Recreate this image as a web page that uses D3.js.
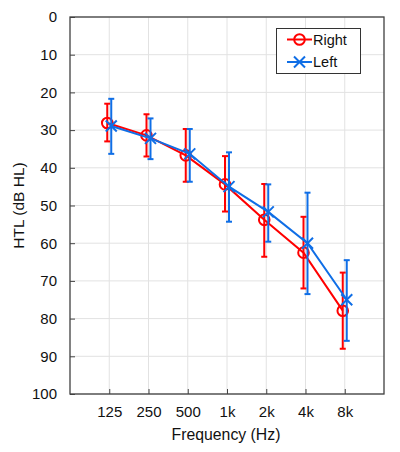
<!DOCTYPE html>
<html>
<head>
<meta charset="utf-8">
<script src="https://cdn.jsdelivr.net/npm/d3@7"></script>
<style>
  body { margin: 0; background: #fff; }
  svg text { font-family: "Liberation Sans", Arial, sans-serif; fill: #111; }
</style>
</head>
<body>
<svg id="chart" width="400" height="452"></svg>
<script>
// data
const freqs = ["125", "250", "500", "1k", "2k", "4k", "8k"];
const yTicks = [0, 10, 20, 30, 40, 50, 60, 70, 80, 90, 100];

const rightMean = [28.1, 31.4, 36.7, 44.4, 53.8, 62.5, 77.9];
const rightLo   = [23.0, 25.8, 29.7, 36.9, 44.3, 53.0, 67.8];
const rightHi   = [33.0, 37.0, 43.7, 51.6, 63.6, 72.0, 88.0];

const leftMean = [28.9, 32.2, 36.3, 45.0, 51.7, 60.0, 75.0];
const leftLo   = [21.7, 26.9, 29.7, 35.9, 44.4, 46.6, 64.5];
const leftHi   = [36.3, 37.7, 43.7, 54.3, 59.6, 73.5, 85.9];

const svg = d3.select("#chart");
const m = {left: 70, top: 17, right: 384, bottom: 394};

const x = d3.scaleLinear().domain([0, 8]).range([m.left, m.right]);
const y = d3.scaleLinear().domain([0, 100]).range([m.top, m.bottom]);

// grid
svg.append("g").selectAll("line.gy").data(yTicks).join("line")
  .attr("x1", m.left).attr("x2", m.right)
  .attr("y1", d => y(d)).attr("y2", d => y(d))
  .attr("stroke", "#e2e2e2").attr("stroke-width", 1);
svg.append("g").selectAll("line.gx").data(freqs).join("line")
  .attr("x1", (d, i) => x(i + 1)).attr("x2", (d, i) => x(i + 1))
  .attr("y1", m.top).attr("y2", m.bottom)
  .attr("stroke", "#e2e2e2").attr("stroke-width", 1);

// axes (ticks inward)
const yAxis = d3.axisLeft(y).tickValues(yTicks).tickSizeInner(-5).tickSizeOuter(0).tickPadding(13);
const gy = svg.append("g").attr("transform", `translate(${m.left},0)`).call(yAxis);
const xAxis = d3.axisBottom(x).tickValues(d3.range(1, 8)).tickFormat(d => freqs[d - 1])
  .tickSizeInner(-5).tickSizeOuter(0).tickPadding(12);
const gx = svg.append("g").attr("transform", `translate(0,${m.bottom})`).call(xAxis);
[gx, gy].forEach(g => {
  g.select(".domain").remove();
  g.selectAll("line").attr("stroke", "#444");
  g.selectAll("text").style("font-size", "15px").attr("fill", "#111");
});

// frame
svg.append("rect")
  .attr("x", m.left).attr("y", m.top)
  .attr("width", m.right - m.left).attr("height", m.bottom - m.top)
  .attr("fill", "none").attr("stroke", "#404040").attr("stroke-width", 1.3);

// axis titles
svg.append("text").attr("x", 226).attr("y", 440)
  .attr("text-anchor", "middle").style("font-size", "15.8px").text("Frequency (Hz)");
svg.append("text").attr("transform", `translate(24,${(m.top + m.bottom) / 2}) rotate(-90)`)
  .attr("text-anchor", "middle").style("font-size", "15.5px").text("HTL (dB HL)");

const series = [
  {name: "Right", color: "#ff0000", mean: rightMean, lo: rightLo, hi: rightHi, dx: -2, marker: "o"},
  {name: "Left", color: "#0f6ee6", mean: leftMean, lo: leftLo, hi: leftHi, dx: 2, marker: "x"}
];

function drawMarker(g, type, cx, cy, color) {
  if (type === "o") {
    g.append("circle").attr("cx", cx).attr("cy", cy).attr("r", 5.3)
      .attr("fill", "none").attr("stroke", color).attr("stroke-width", 2);
  } else {
    const s = 5.5;
    g.append("path")
      .attr("d", `M${cx - s},${cy - s}L${cx + s},${cy + s}M${cx - s},${cy + s}L${cx + s},${cy - s}`)
      .attr("stroke", color).attr("stroke-width", 2).attr("fill", "none");
  }
}

series.forEach(s => {
  const g = svg.append("g");
  const px = i => x(i + 1) + s.dx;
  // error bars
  s.mean.forEach((v, i) => {
    const cx = px(i);
    g.append("line").attr("x1", cx).attr("x2", cx)
      .attr("y1", y(s.lo[i])).attr("y2", y(s.hi[i]))
      .attr("stroke", s.color).attr("stroke-width", 2);
    [s.lo[i], s.hi[i]].forEach(e => {
      g.append("line").attr("x1", cx - 3).attr("x2", cx + 3)
        .attr("y1", y(e)).attr("y2", y(e))
        .attr("stroke", s.color).attr("stroke-width", 2);
    });
  });
  // line
  const line = d3.line().x((d, i) => px(i)).y(d => y(d));
  g.append("path").datum(s.mean).attr("d", line)
    .attr("fill", "none").attr("stroke", s.color).attr("stroke-width", 2);
  s.mean.forEach((v, i) => drawMarker(g, s.marker, px(i), y(v), s.color));
});

// legend
const lg = svg.append("g");
lg.append("rect").attr("x", 276.5).attr("y", 28.5).attr("width", 84).attr("height", 45)
  .attr("fill", "#fff").attr("stroke", "#333").attr("stroke-width", 1);
series.forEach((s, i) => {
  const ly = 39.5 + i * 22.5;
  lg.append("line").attr("x1", 287).attr("x2", 312).attr("y1", ly).attr("y2", ly)
    .attr("stroke", s.color).attr("stroke-width", 2);
  drawMarker(lg, s.marker, 299.5, ly, s.color);
  lg.append("text").attr("x", 313).attr("y", ly + 5).style("font-size", "14.5px").text(s.name);
});
</script>
</body>
</html>
